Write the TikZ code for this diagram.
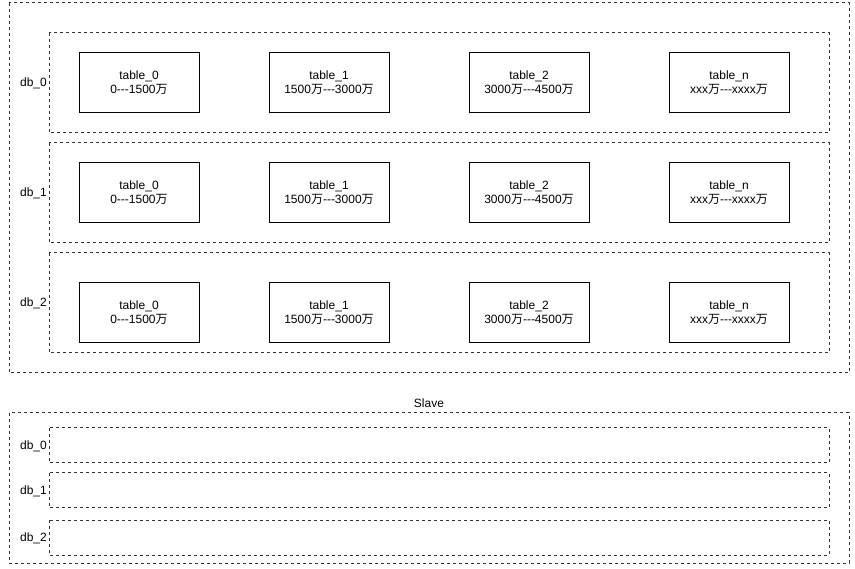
\documentclass[tikz,border=0pt]{standalone}
\usepackage{fontspec}
\setmainfont{Liberation Sans}
\newfontfamily\cjkfont{Noto Sans CJK SC}
\newcommand{\wanzi}{{\cjkfont 万}}
\newcommand{\ddd}{-{}-{}-}
\begin{document}
\begin{tikzpicture}[x=1pt,y=-1pt,
  every node/.style={font=\fontsize{12}{14}\selectfont},
  dbox/.style={draw=black!80,dashed,dash pattern=on 3pt off 3pt,line width=1pt,fill=none},
  tbox/.style={draw=black,line width=1pt,minimum width=120pt,minimum height=60pt,inner sep=0pt,align=center,fill=white},
  lbl/.style={anchor=east,inner sep=0pt}]
\useasboundingbox (0,0) rectangle (855,569);
\fill[white] (0,0) rectangle (855,569);
% master
\draw[dbox] (9,3) rectangle (849,373);
\draw[dbox] (49,33) rectangle (829,133);
\draw[dbox] (49,143) rectangle (829,243);
\draw[dbox] (49,253) rectangle (829,353);
\node[lbl] (m0) at (47,83) {db\_0};
\node[lbl] (m1) at (47,193) {db\_1};
\node[lbl] (m2) at (47,303) {db\_2};
\foreach \r/\y in {0/83,1/193,2/313}{
  \node[tbox] (t0\r) at (139,\y) {table\_0\\0\ddd1500\wanzi};
  \node[tbox] (t1\r) at (329,\y) {table\_1\\1500\wanzi\ddd3000\wanzi};
  \node[tbox] (t2\r) at (529,\y) {table\_2\\3000\wanzi\ddd4500\wanzi};
  \node[tbox] (tn\r) at (729,\y) {table\_n\\xxx\wanzi\ddd xxxx\wanzi};
}
% slave
\node (slave) at (429,403) {Slave};
\draw[dbox] (9,413) rectangle (849,563);
\draw[dbox] (49,428) rectangle (829,463);
\draw[dbox] (49,473) rectangle (829,508);
\draw[dbox] (49,520) rectangle (829,555);
\node[lbl] (s0) at (47,446) {db\_0};
\node[lbl] (s1) at (47,491) {db\_1};
\node[lbl] (s2) at (47,538) {db\_2};
\end{tikzpicture}
\end{document}
